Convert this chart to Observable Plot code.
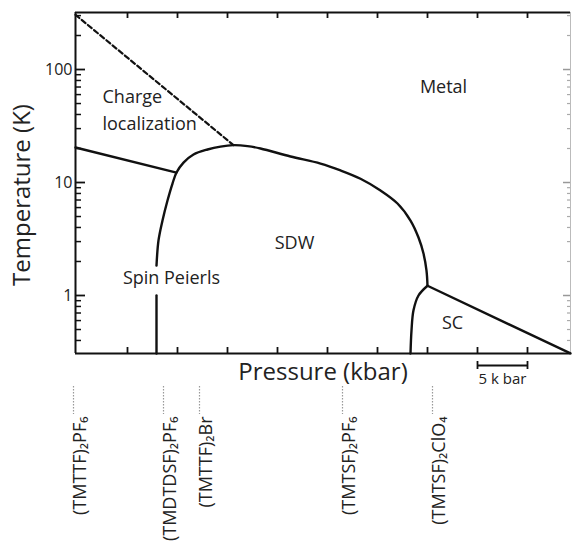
<!DOCTYPE html>
<html>
<head>
<meta charset="utf-8">
<script src="https://cdn.jsdelivr.net/npm/d3@7"></script>
<script src="https://cdn.jsdelivr.net/npm/@observablehq/plot@0.6"></script>
<style>
  html, body { margin: 0; padding: 0; background: #fff; }
  #chart svg { display: block; }
</style>
</head>
<body>
<div id="chart"></div>
<script>
// ---- Data (pressure in kbar, temperature in K) ----
const chargeLocP = [-0.2, 15.6];
const chargeLocT = [305, 21.4];

const leftLineP = [-0.2, 9.9];
const leftLineT = [20.4, 12.25];

const spLowerP = [7.9, 7.9];
const spLowerT = [0.307, 1.0];

const sdwDomeP = [7.9, 8.1, 8.5, 9.0, 9.5, 9.9, 10.6, 11.6, 13.0, 14.3, 15.6, 17.0, 18.3, 21.3, 24.3, 26.3, 28.3, 30.3, 32.0, 33.3, 34.1, 34.6, 34.9, 35.0];
const sdwDomeT = [1.84, 3.07, 4.61, 6.93, 9.8, 12.25, 15.0, 17.7, 19.6, 20.8, 21.4, 21.0, 20.0, 17.0, 14.7, 12.8, 10.8, 8.5, 6.52, 4.61, 3.26, 2.35, 1.66, 1.22];

const scDomeP = [33.3, 33.4, 33.6, 34.1, 35.0];
const scDomeT = [0.307, 0.49, 0.74, 1.0, 1.22];

const scLineP = [35.0, 49.3];
const scLineT = [1.22, 0.307];

const regionNames = ["Metal", "SDW", "Spin Peierls", "SC"];
const regionP = [36.6, 21.7, 9.4, 37.5];
const regionT = [70, 2.89, 1.41, 0.565];
const chargeLabel = "Charge\nlocalization";
const chargeLabelP = 2.5, chargeLabelT = 46;

const compounds = ["(TMTTF)₂PF₆", "(TMDTDSF)₂PF₆", "(TMTTF)₂Br", "(TMTSF)₂PF₆", "(TMTSF)₂ClO₄"];
const compoundP = [-0.4, 8.6, 12.2, 26.5, 35.5];

const yMajorTicks = [1, 10, 100];
const yMinorTicks = [0.4, 0.5, 0.6, 0.7, 0.8, 0.9, 2, 3, 4, 5, 6, 7, 8, 9, 20, 30, 40, 50, 60, 70, 80, 90, 200, 300];
const xTicks = [5, 10, 15, 20, 25, 30, 35, 40, 45];
const scaleBar = [40, 45];

const xDomain = [-0.2, 49.3];
const yDomain = [0.3067, 319.6];

// ---- layout ----
const W = 572, H = 548;
const mL = 75, mR = 2, mT = 12, mB = 195;
const fw = W - mL - mR, fh = H - mT - mB;
const xPerPx = (xDomain[1] - xDomain[0]) / fw;
const decPerPx = Math.log10(yDomain[1] / yDomain[0]) / fh;
const yBelow = off => yDomain[0] * 10 ** (-off * decPerPx);
const yAboveBottom = off => yDomain[0] * 10 ** (off * decPerPx);
const yBelowTop = off => yDomain[1] * 10 ** (-off * decPerPx);

const pts = (P, T) => P.map((p, i) => ({p, t: T[i]}));
const FONT = "'Open Sans', 'Noto Sans', 'DejaVu Sans', sans-serif";
const TXT = "#222";
const INK = "#111";

const chart = Plot.plot({
  width: W,
  height: H,
  marginLeft: mL,
  marginRight: mR,
  marginTop: mT,
  marginBottom: mB,
  style: {fontFamily: FONT, fontSize: "16px", background: "#fff", overflow: "visible"},
  x: {domain: xDomain, axis: null},
  y: {type: "log", domain: yDomain, label: null},
  marks: [
    // frame
    Plot.ruleX([xDomain[1]], {stroke: "#bbb", strokeWidth: 1}),
    Plot.ruleY([yDomain[0]], {stroke: INK, strokeWidth: 2}),
    Plot.ruleY([yDomain[1]], {stroke: INK, strokeWidth: 2}),
    Plot.ruleX([xDomain[0]], {stroke: INK, strokeWidth: 2}),
    Plot.axisY(yMajorTicks, {tickSize: 0, tickPadding: 3, fontSize: 16, fill: TXT, label: null, tickFormat: d => String(d)}),
    // ticks (inward)
    Plot.ruleY(yMajorTicks, {y: d => d, x1: xDomain[0], x2: xDomain[0] + 10 * xPerPx, stroke: INK, strokeWidth: 1.8}),
    Plot.ruleY(yMinorTicks, {y: d => d, x1: xDomain[0], x2: xDomain[0] + 6 * xPerPx, stroke: INK, strokeWidth: 1.5}),
    Plot.ruleY(yMajorTicks, {y: d => d, x1: xDomain[1] - 7 * xPerPx, x2: xDomain[1], stroke: "#999", strokeWidth: 1.5}),
    Plot.ruleY(yMinorTicks, {y: d => d, x1: xDomain[1] - 3 * xPerPx, x2: xDomain[1], stroke: "#aaa", strokeWidth: 1.2}),
    Plot.ruleX(xTicks, {x: d => d, y1: yDomain[0], y2: yAboveBottom(6), stroke: INK, strokeWidth: 1.8}),
    Plot.ruleX(xTicks, {x: d => d, y1: yDomain[1], y2: yBelowTop(6), stroke: INK, strokeWidth: 1.8}),
    // phase boundaries
    Plot.line(pts(chargeLocP, chargeLocT), {x: "p", y: "t", stroke: INK, strokeWidth: 2.2, strokeDasharray: "5,3"}),
    Plot.line(pts(leftLineP, leftLineT), {x: "p", y: "t", stroke: INK, strokeWidth: 2.4}),
    Plot.line(pts(spLowerP, spLowerT), {x: "p", y: "t", stroke: INK, strokeWidth: 2.4}),
    Plot.line(pts(sdwDomeP, sdwDomeT), {x: "p", y: "t", stroke: INK, strokeWidth: 2.4, curve: "catmull-rom"}),
    Plot.line(pts(scDomeP, scDomeT), {x: "p", y: "t", stroke: INK, strokeWidth: 2.4, curve: "catmull-rom"}),
    Plot.line(pts(scLineP, scLineT), {x: "p", y: "t", stroke: INK, strokeWidth: 2.4}),
    // region labels
    Plot.text(regionNames, {
      x: (d, i) => regionP[i], y: (d, i) => regionT[i], text: d => d,
      textAnchor: "middle", lineAnchor: "middle", fontSize: 18, fill: TXT
    }),
    Plot.text([chargeLabel], {
      x: () => chargeLabelP, y: () => chargeLabelT, text: d => d,
      textAnchor: "start", lineAnchor: "middle", lineHeight: 1.5, fontSize: 18, fill: TXT
    }),
    // axis titles
    Plot.text(["Temperature (K)"], {frameAnchor: "left", dx: -53, dy: 12, rotate: -90, textAnchor: "middle", lineAnchor: "middle", fontSize: 24, fill: TXT}),
    Plot.text(["Pressure (kbar)"], {frameAnchor: "bottom", dy: 19, textAnchor: "middle", lineAnchor: "middle", fontSize: 24, fill: TXT}),
    // scale bar
    Plot.ruleY([yBelow(12)], {x1: scaleBar[0], x2: scaleBar[1], stroke: INK, strokeWidth: 2}),
    Plot.ruleX(scaleBar, {x: d => d, y1: yBelow(8), y2: yBelow(16), stroke: INK, strokeWidth: 1.8}),
    Plot.text(["5 k bar"], {x: () => d3.mean(scaleBar), frameAnchor: "bottom", dy: 26, lineAnchor: "middle", fontSize: 15, fill: TXT}),
    // compound leader lines and labels
    Plot.ruleX(compoundP, {x: d => d, y1: yBelow(33), y2: yBelow(61), stroke: "#999", strokeWidth: 1.2, strokeDasharray: "1.5,1.5"}),
    Plot.text(compounds, {
      x: (d, i) => compoundP[i], text: d => d,
      frameAnchor: "bottom", dx: 7, dy: 63, rotate: -90,
      textAnchor: "end", lineAnchor: "middle", fontSize: 18, fill: TXT
    })
  ]
});
document.getElementById("chart").appendChild(chart);
</script>
</body>
</html>
